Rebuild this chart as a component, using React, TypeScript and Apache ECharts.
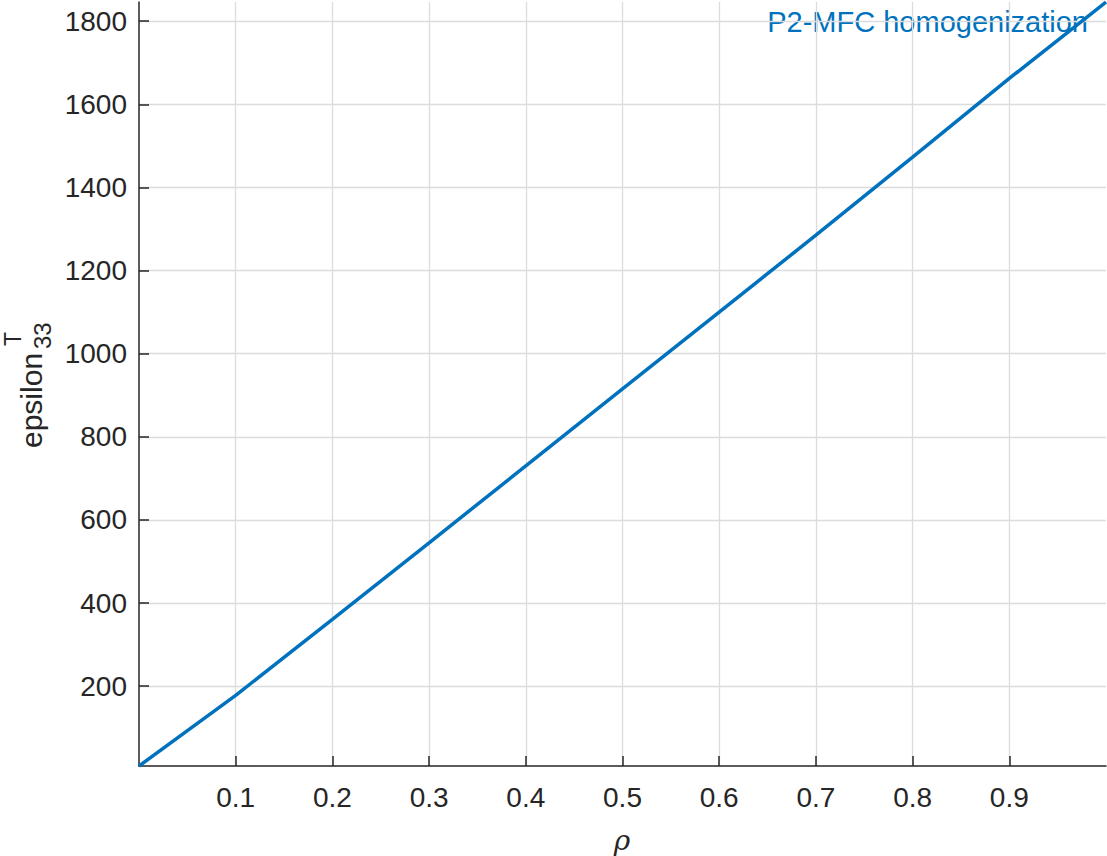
import React, { useEffect, useRef } from "react";
import * as echarts from "echarts";

const rho = [0, 0.1, 0.2, 0.3, 0.4, 0.5, 0.6, 0.7, 0.8, 0.9, 1.0];
const epsilon33 = [8, 178, 361, 545, 730, 915, 1100, 1285, 1473, 1662, 1846];
const yTicks = [200, 400, 600, 800, 1000, 1200, 1400, 1600, 1800];
const xTicks = [0.1, 0.2, 0.3, 0.4, 0.5, 0.6, 0.7, 0.8, 0.9];
const seriesName = "P2-MFC homogenization";

const FONT = "'Liberation Sans', Arial, Helvetica, sans-serif";
const DARK = "#262626";
const BLUE = "#0072BD";
const GRID = "#dcdcdc";

export default function App() {
  const ref = useRef<HTMLDivElement>(null);
  useEffect(() => {
    if (!ref.current) return;
    const chart = echarts.init(ref.current, null, { renderer: "svg" });
    chart.setOption({
      animation: false,
      backgroundColor: "#ffffff",
      grid: { left: 139, right: 1, top: 2, bottom: 90, containLabel: false },
      xAxis: {
        type: "value",
        min: 0,
        max: 1,
        axisLine: { show: true, lineStyle: { color: DARK, width: 1.5 } },
        axisTick: { show: true, inside: true, length: 10, customValues: xTicks, lineStyle: { color: DARK, width: 1.5 } },
        axisLabel: {
          customValues: xTicks,
          color: DARK,
          fontSize: 28,
          fontFamily: FONT,
          margin: 17,
          formatter: (v: number) => String(Math.round(v * 10) / 10),
        },
        splitLine: { show: true, lineStyle: { color: GRID, width: 1.3 } },
      },
      yAxis: {
        type: "value",
        min: 8,
        max: 1846,
        axisLine: { show: true, lineStyle: { color: DARK, width: 1.5 } },
        axisTick: { show: true, inside: true, length: 10, customValues: yTicks, lineStyle: { color: DARK, width: 1.5 } },
        axisLabel: {
          customValues: yTicks,
          color: DARK,
          fontSize: 28,
          fontFamily: FONT,
          margin: 12,
          formatter: (v: number) => String(v),
        },
        splitLine: { show: true, lineStyle: { color: GRID, width: 1.3 } },
      },
      series: [
        {
          name: seriesName,
          type: "line",
          data: rho.map((r, i) => [r, epsilon33[i]]),
          showSymbol: false,
          symbol: "none",
          lineStyle: { color: BLUE, width: 3.5 },
          clip: false,
        },
      ],
      graphic: [
        {
          type: "text",
          x: 1088,
          y: 22,
          style: { text: seriesName, fill: BLUE, fontSize: 29, fontFamily: FONT, align: "right", verticalAlign: "middle" },
        },
        {
          type: "text",
          x: 31,
          y: 448,
          rotation: Math.PI / 2,
          style: { text: "epsilon", fill: DARK, fontSize: 30, fontFamily: FONT, align: "left", verticalAlign: "middle" },
        },
        {
          type: "text",
          x: 42,
          y: 349,
          rotation: Math.PI / 2,
          style: { text: "33", fill: DARK, fontSize: 24, fontFamily: FONT, align: "left", verticalAlign: "middle" },
        },
        {
          type: "text",
          x: 13,
          y: 346,
          rotation: Math.PI / 2,
          style: { text: "T", fill: DARK, fontSize: 23, fontFamily: FONT, align: "left", verticalAlign: "middle" },
        },
        {
          type: "text",
          x: 622,
          y: 840,
          style: { text: "ρ", fill: DARK, fontSize: 28, fontStyle: "italic", fontFamily: "'DejaVu Serif', 'Liberation Serif', serif", align: "center", verticalAlign: "middle" },
        },
      ],
    });
    return () => chart.dispose();
  }, []);
  return <div ref={ref} style={{ position: "fixed", left: 0, top: 0, width: 1107, height: 856 }} />;
}
